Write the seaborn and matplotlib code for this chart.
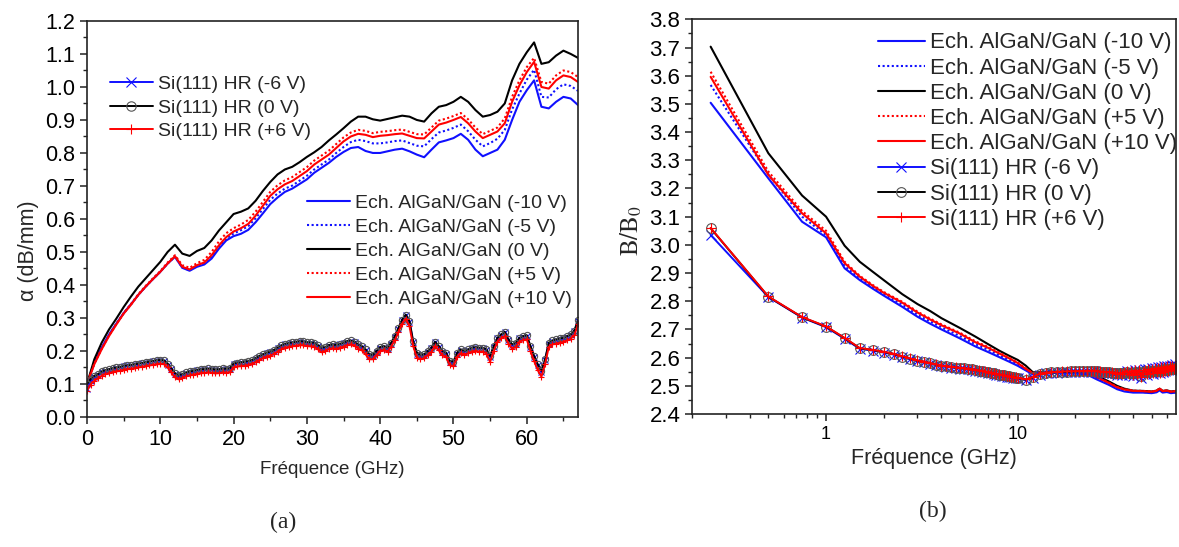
import matplotlib
matplotlib.use("Agg")
import matplotlib.pyplot as plt
from matplotlib.ticker import (MultipleLocator, LogLocator, NullFormatter, FixedLocator,
                               FixedFormatter, FormatStrFormatter)
import numpy as np
import seaborn as sns

# ---------------- (a) attenuation vs frequency ----------------
freq_a_alg = list(range(0, 68))  # GHz, 1 GHz step

alg_a_m10 = [0.10,0.165,0.21,0.25,0.283,0.315,0.342,0.37,0.395,0.418,
             0.44,0.465,0.485,0.452,0.443,0.455,0.462,0.48,0.51,0.535,
             0.548,0.555,0.567,0.59,0.617,0.645,0.665,0.682,0.692,0.706,
             0.72,0.74,0.755,0.77,0.788,0.803,0.815,0.818,0.806,0.80,
             0.80,0.805,0.81,0.813,0.805,0.795,0.787,0.81,0.832,0.838,
             0.845,0.858,0.84,0.81,0.79,0.80,0.81,0.84,0.90,0.955,
             0.99,1.02,0.94,0.935,0.955,0.97,0.965,0.945]
alg_a_m5 = [0.10,0.163,0.208,0.248,0.282,0.314,0.341,0.37,0.395,0.418,
            0.44,0.465,0.486,0.453,0.445,0.457,0.465,0.486,0.515,0.54,
            0.556,0.566,0.578,0.602,0.63,0.658,0.677,0.692,0.701,0.716,
            0.731,0.75,0.765,0.78,0.8,0.818,0.833,0.84,0.836,0.829,
            0.829,0.832,0.836,0.838,0.83,0.822,0.82,0.842,0.862,0.868,
            0.876,0.886,0.866,0.84,0.82,0.83,0.843,0.87,0.932,0.98,
            1.022,1.052,0.97,0.968,0.993,1.008,1.003,0.988]
alg_a_0 = [0.10,0.175,0.225,0.265,0.298,0.333,0.365,0.395,0.42,0.445,
           0.47,0.50,0.522,0.495,0.488,0.503,0.512,0.535,0.565,0.59,
           0.615,0.622,0.632,0.655,0.685,0.712,0.735,0.75,0.758,0.772,
           0.788,0.802,0.818,0.838,0.856,0.875,0.895,0.91,0.91,0.902,
           0.898,0.903,0.908,0.913,0.91,0.9,0.895,0.92,0.94,0.945,
           0.955,0.97,0.955,0.93,0.91,0.915,0.925,0.95,1.02,1.07,
           1.105,1.135,1.07,1.075,1.095,1.11,1.10,1.088]
alg_a_p5 = [0.10,0.162,0.207,0.247,0.282,0.315,0.342,0.372,0.397,0.42,
            0.442,0.468,0.49,0.46,0.452,0.466,0.476,0.5,0.532,0.557,
            0.572,0.583,0.597,0.622,0.652,0.682,0.702,0.717,0.727,0.742,
            0.757,0.777,0.792,0.807,0.827,0.847,0.862,0.87,0.867,0.86,
            0.864,0.866,0.869,0.871,0.864,0.857,0.856,0.877,0.898,0.904,
            0.912,0.921,0.902,0.877,0.857,0.867,0.877,0.905,0.97,1.02,
            1.06,1.088,1.015,1.01,1.035,1.05,1.045,1.03]
alg_a_p10 = [0.10,0.16,0.205,0.245,0.28,0.313,0.34,0.37,0.395,0.418,
             0.44,0.465,0.487,0.455,0.447,0.46,0.468,0.49,0.52,0.545,
             0.562,0.572,0.585,0.61,0.64,0.67,0.69,0.705,0.715,0.73,
             0.745,0.765,0.78,0.795,0.815,0.835,0.85,0.858,0.855,0.848,
             0.852,0.854,0.857,0.859,0.852,0.845,0.844,0.865,0.886,0.892,
             0.90,0.909,0.89,0.865,0.845,0.855,0.865,0.89,0.955,1.005,
             1.045,1.076,1.0,0.995,1.02,1.035,1.03,1.015]

freq_a_si = [i * 0.5 for i in range(135)]  # GHz, 0.5 GHz step

si_a_m6 = [0.085,0.108,0.12,0.127,0.135,0.14,0.143,0.146,0.148,0.151,
           0.153,0.156,0.157,0.159,0.161,0.163,0.165,0.167,0.169,0.171,
           0.172,0.17,0.159,0.145,0.13,0.123,0.127,0.132,0.136,0.138,
           0.141,0.143,0.144,0.145,0.144,0.142,0.143,0.145,0.144,0.146,
           0.16,0.163,0.164,0.165,0.168,0.171,0.176,0.183,0.188,0.193,
           0.196,0.201,0.208,0.215,0.22,0.222,0.224,0.226,0.228,0.227,
           0.225,0.224,0.222,0.215,0.207,0.21,0.216,0.218,0.216,0.22,
           0.223,0.228,0.23,0.226,0.218,0.213,0.202,0.186,0.185,0.197,
           0.21,0.213,0.207,0.222,0.243,0.268,0.293,0.308,0.287,0.227,
           0.192,0.185,0.187,0.198,0.208,0.226,0.212,0.197,0.192,0.167,
           0.165,0.192,0.203,0.198,0.203,0.208,0.21,0.208,0.208,0.202,
           0.182,0.212,0.238,0.248,0.256,0.232,0.218,0.222,0.238,0.243,
           0.246,0.212,0.182,0.156,0.136,0.172,0.222,0.23,0.233,0.236,
           0.238,0.243,0.248,0.26,0.292]
si_a_0 = [0.10,0.115,0.125,0.13,0.138,0.142,0.145,0.148,0.150,0.152,
          0.155,0.157,0.158,0.16,0.162,0.164,0.166,0.168,0.17,0.172,
          0.173,0.172,0.162,0.148,0.133,0.126,0.13,0.135,0.138,0.14,
          0.143,0.145,0.145,0.147,0.146,0.144,0.145,0.147,0.146,0.148,
          0.162,0.165,0.166,0.167,0.17,0.173,0.178,0.185,0.19,0.195,
          0.198,0.203,0.21,0.217,0.222,0.224,0.226,0.228,0.23,0.229,
          0.227,0.226,0.225,0.218,0.21,0.212,0.218,0.22,0.218,0.222,
          0.225,0.23,0.232,0.228,0.22,0.215,0.205,0.19,0.188,0.2,
          0.212,0.215,0.21,0.225,0.245,0.27,0.295,0.31,0.29,0.23,
          0.195,0.188,0.19,0.2,0.21,0.228,0.215,0.2,0.195,0.17,
          0.168,0.195,0.205,0.2,0.205,0.21,0.212,0.21,0.21,0.205,
          0.185,0.215,0.24,0.25,0.258,0.235,0.22,0.225,0.24,0.245,
          0.248,0.215,0.185,0.16,0.14,0.175,0.225,0.232,0.235,0.238,
          0.24,0.245,0.25,0.262,0.295]
si_a_p6 = [0.08,0.098,0.11,0.117,0.125,0.13,0.133,0.136,0.138,0.14,
           0.143,0.145,0.146,0.148,0.15,0.152,0.154,0.156,0.158,0.16,
           0.161,0.16,0.15,0.135,0.12,0.114,0.118,0.123,0.126,0.128,
           0.131,0.133,0.133,0.135,0.134,0.132,0.133,0.135,0.134,0.136,
           0.15,0.153,0.154,0.155,0.158,0.161,0.166,0.173,0.178,0.183,
           0.186,0.191,0.198,0.205,0.21,0.212,0.214,0.216,0.218,0.217,
           0.215,0.214,0.213,0.205,0.196,0.2,0.206,0.208,0.206,0.21,
           0.213,0.218,0.22,0.216,0.207,0.202,0.19,0.175,0.175,0.188,
           0.2,0.203,0.198,0.213,0.233,0.258,0.283,0.298,0.275,0.215,
           0.18,0.175,0.178,0.188,0.198,0.215,0.202,0.187,0.182,0.157,
           0.153,0.182,0.193,0.188,0.193,0.198,0.2,0.198,0.198,0.192,
           0.167,0.2,0.228,0.238,0.245,0.222,0.207,0.212,0.228,0.233,
           0.235,0.2,0.17,0.142,0.122,0.16,0.212,0.22,0.222,0.225,
           0.227,0.232,0.237,0.248,0.282]

# ---------------- (b) normalised susceptance vs frequency ----------------
freq_b_alg = [0.25, 0.5, 0.75, 1.0, 1.25, 1.5, 1.75, 2.0, 2.5, 3.0, 3.5, 4.0,
              5, 6, 7, 8, 9, 10, 11, 12, 13, 15, 17, 20, 23, 26, 30, 33, 36,
              40, 45, 50, 53, 55, 57, 60, 63, 67]

alg_b_m10 = [3.504,3.236,3.082,3.027,2.917,2.875,2.845,2.82,2.78,2.745,2.72,2.70,
             2.668,2.64,2.62,2.602,2.586,2.571,2.555,2.54,2.542,2.545,2.546,2.545,
             2.54,2.522,2.503,2.488,2.48,2.476,2.476,2.474,2.477,2.484,2.476,2.478,
             2.474,2.476]
alg_b_m5 = [3.567,3.25,3.10,3.035,2.925,2.88,2.85,2.825,2.788,2.752,2.728,2.708,
            2.676,2.648,2.628,2.608,2.592,2.576,2.558,2.542,2.543,2.546,2.548,2.547,
            2.542,2.526,2.506,2.491,2.483,2.479,2.478,2.476,2.479,2.487,2.478,2.48,
            2.476,2.478]
alg_b_0 = [3.703,3.325,3.175,3.10,2.997,2.94,2.905,2.875,2.825,2.79,2.765,2.74,
           2.705,2.675,2.648,2.625,2.607,2.592,2.572,2.548,2.548,2.55,2.55,2.552,
           2.548,2.535,2.515,2.50,2.49,2.483,2.482,2.48,2.483,2.49,2.482,2.484,
           2.48,2.482]
alg_b_p5 = [3.614,3.26,3.12,3.05,2.94,2.89,2.858,2.833,2.798,2.763,2.738,2.718,
            2.688,2.658,2.638,2.618,2.6,2.583,2.562,2.546,2.546,2.549,2.551,2.551,
            2.546,2.531,2.511,2.496,2.488,2.483,2.482,2.48,2.483,2.491,2.482,2.484,
            2.48,2.482]
alg_b_p10 = [3.596,3.248,3.112,3.041,2.935,2.887,2.855,2.83,2.795,2.76,2.735,2.715,
             2.685,2.655,2.635,2.615,2.598,2.581,2.56,2.545,2.545,2.548,2.55,2.55,
             2.545,2.53,2.51,2.495,2.487,2.482,2.481,2.479,2.482,2.49,2.481,2.483,
             2.479,2.481]

freq_b_si = [0.25 * i for i in range(1, 41)] + list(range(11, 68))

si_b_m6 = [3.035,2.815,2.742,2.708,2.667,2.631,2.625,2.618,2.611,2.602,
           2.594,2.587,2.583,2.578,2.573,2.569,2.567,2.565,2.563,2.561,
           2.56,2.558,2.556,2.554,2.552,2.55,2.548,2.546,2.544,2.542,
           2.54,2.538,2.536,2.535,2.533,2.532,2.53,2.529,2.527,2.526,
           2.52,2.528,2.54,2.544,2.546,2.546,2.548,2.548,2.549,2.549,
           2.55,2.55,2.551,2.55,2.551,2.549,2.548,2.547,2.546,2.546,
           2.545,2.544,2.54,2.543,2.538,2.547,2.552,2.54,2.549,2.536,
           2.555,2.54,2.556,2.528,2.552,2.558,2.538,2.56,2.548,2.562,
           2.542,2.563,2.55,2.566,2.545,2.567,2.55,2.569,2.553,2.57,
           2.555,2.572,2.557,2.574,2.56,2.576,2.565]
si_b_0 = [3.059,2.816,2.743,2.71,2.669,2.633,2.627,2.62,2.613,2.604,
          2.596,2.589,2.585,2.58,2.575,2.571,2.569,2.567,2.565,2.563,
          2.562,2.56,2.558,2.556,2.554,2.552,2.55,2.548,2.546,2.544,
          2.542,2.54,2.538,2.537,2.535,2.534,2.532,2.531,2.529,2.528,
          2.522,2.53,2.542,2.546,2.548,2.548,2.55,2.55,2.551,2.551,
          2.552,2.552,2.553,2.552,2.553,2.551,2.55,2.549,2.548,2.548,
          2.547,2.546,2.546,2.545,2.546,2.545,2.548,2.544,2.547,2.545,
          2.549,2.546,2.55,2.535,2.548,2.551,2.549,2.552,2.55,2.553,
          2.551,2.554,2.552,2.556,2.553,2.557,2.555,2.558,2.556,2.56,
          2.557,2.561,2.559,2.563,2.56,2.565,2.562]
si_b_p6 = [3.06,2.817,2.744,2.711,2.67,2.634,2.628,2.621,2.614,2.605,
           2.597,2.59,2.586,2.581,2.576,2.572,2.57,2.568,2.566,2.564,
           2.563,2.561,2.559,2.557,2.555,2.553,2.551,2.549,2.547,2.545,
           2.543,2.541,2.539,2.538,2.536,2.535,2.533,2.532,2.53,2.529,
           2.523,2.531,2.543,2.547,2.549,2.549,2.551,2.551,2.552,2.552,
           2.553,2.553,2.554,2.553,2.554,2.552,2.551,2.55,2.549,2.549,
           2.548,2.547,2.543,2.546,2.541,2.55,2.553,2.542,2.551,2.539,
           2.556,2.543,2.555,2.53,2.549,2.557,2.541,2.559,2.546,2.561,
           2.544,2.562,2.548,2.565,2.546,2.566,2.549,2.568,2.551,2.569,
           2.553,2.571,2.556,2.572,2.558,2.574,2.56]

alg_labels = ["Ech. AlGaN/GaN (-10 V)", "Ech. AlGaN/GaN (-5 V)", "Ech. AlGaN/GaN (0 V)",
              "Ech. AlGaN/GaN (+5 V)", "Ech. AlGaN/GaN (+10 V)"]
si_labels = ["Si(111) HR (-6 V)", "Si(111) HR (0 V)", "Si(111) HR (+6 V)"]

BLUE, BLACK, RED = "#1010ff", "#000000", "#ff0000"
DOT = (0, (1, 1.2))
alg_styles = [(BLUE, "-"), (BLUE, DOT), (BLACK, "-"), (RED, DOT), (RED, "-")]
si_styles = [(BLUE, "x"), (BLACK, "o"), (RED, "+")]

sns.set_theme(style="ticks")
plt.rcParams["font.family"] = ["Liberation Sans", "DejaVu Sans"]
plt.rcParams["mathtext.fontset"] = "stix"
plt.rcParams["axes.linewidth"] = 1.2
plt.rcParams["axes.edgecolor"] = "#222222"

fig = plt.figure(figsize=(11.79, 5.47), dpi=100)
ax_a = fig.add_axes([0.0738, 0.2377, 0.4165, 0.724])
ax_b = fig.add_axes([0.587, 0.2431, 0.4105, 0.7216])


def draw_alg(ax, x, series):
    handles = []
    for y, (c, ls), lab in zip(series, alg_styles, alg_labels):
        sns.lineplot(x=x, y=y, ax=ax, color=c, linestyle=ls, lw=1.5,
                     estimator=None, sort=False, label=lab, legend=False)
        handles.append(ax.get_lines()[-1])
    return handles


def draw_si(ax, x, series, ms, mew):
    handles = []
    for y, (c, m), lab in zip(series, si_styles, si_labels):
        kw = dict(marker=m, markersize=ms, markeredgewidth=mew, markeredgecolor=c)
        if m == "o":
            kw["markerfacecolor"] = "none"
            kw["markeredgecolor"] = "#555555"
        sns.lineplot(x=x, y=y, ax=ax, color=c, lw=1.4, estimator=None, sort=False,
                     label=lab, legend=False, **kw)
        handles.append(ax.get_lines()[-1])
    return handles


# panel (a)
h_alg_a = draw_alg(ax_a, freq_a_alg, [alg_a_m10, alg_a_m5, alg_a_0, alg_a_p5, alg_a_p10])
h_si_a = draw_si(ax_a, freq_a_si, [si_a_m6, si_a_0, si_a_p6], ms=4.5, mew=0.8)

ax_a.set_xlim(0, 67)
ax_a.set_ylim(0.0, 1.2)
ax_a.xaxis.set_major_locator(MultipleLocator(10))
ax_a.xaxis.set_minor_locator(MultipleLocator(5))
ax_a.yaxis.set_major_locator(MultipleLocator(0.1))
ax_a.yaxis.set_minor_locator(MultipleLocator(0.05))
ax_a.yaxis.set_major_formatter(FormatStrFormatter("%.1f"))
ax_a.set_xlabel("Fréquence (GHz)", fontsize=13.5, labelpad=8)
ax_a.set_ylabel("α (dB/mm)", fontsize=15.5)
ax_a.yaxis.set_label_coords(-0.097, 0.42)

leg1 = ax_a.legend(h_si_a, si_labels, loc="upper left", bbox_to_anchor=(0.047, 0.862),
                   frameon=False, fontsize=14, handlelength=2.2, handletextpad=0.25,
                   labelspacing=0.3, borderpad=0, borderaxespad=0, markerscale=1.5)
ax_a.add_artist(leg1)
ax_a.legend(h_alg_a, alg_labels, loc="upper left", bbox_to_anchor=(0.448, 0.562),
            frameon=False, fontsize=14, handlelength=2.2, handletextpad=0.25,
            labelspacing=0.33, borderpad=0, borderaxespad=0)

# panel (b)
h_alg_b = draw_alg(ax_b, freq_b_alg, [alg_b_m10, alg_b_m5, alg_b_0, alg_b_p5, alg_b_p10])
h_si_b = draw_si(ax_b, freq_b_si, [si_b_m6, si_b_0, si_b_p6], ms=7, mew=0.8)

ax_b.set_xscale("log")
ax_b.set_xlim(0.2, 67)
ax_b.set_ylim(2.4, 3.8)
ax_b.xaxis.set_major_locator(FixedLocator([1, 10]))
ax_b.xaxis.set_major_formatter(FixedFormatter(["1", "10"]))
ax_b.xaxis.set_minor_locator(LogLocator(base=10, subs=np.arange(2, 10), numticks=20))
ax_b.xaxis.set_minor_formatter(NullFormatter())
ax_b.yaxis.set_major_locator(MultipleLocator(0.1))
ax_b.yaxis.set_minor_locator(MultipleLocator(0.05))
ax_b.yaxis.set_major_formatter(FormatStrFormatter("%.1f"))
ax_b.set_xlabel("Fréquence (GHz)", fontsize=15.5, labelpad=4)
ax_b.set_ylabel(r"$\mathrm{B/B_0}$", fontsize=18)
ax_b.yaxis.set_label_coords(-0.099, 0.464)

ax_b.legend(h_alg_b + h_si_b, alg_labels + si_labels, loc="upper left",
            bbox_to_anchor=(0.384, 0.967), frameon=False, fontsize=16,
            handlelength=2.1, handletextpad=0.25, labelspacing=0.19,
            borderpad=0, borderaxespad=0)

for ax in (ax_a, ax_b):
    for s in ax.spines.values():
        s.set_visible(True)
        s.set_linewidth(1.2)
    ax.tick_params(axis="both", which="major", direction="out", length=5, width=1.1,
                   labelsize=15.5, top=False, right=False, colors="#222222",
                   labelcolor="black")
    ax.tick_params(axis="both", which="minor", direction="out", length=3, width=1.0,
                   top=False, right=False, colors="#222222")
    ax.grid(False)
ax_b.tick_params(axis="y", which="major", labelsize=16)
ax_b.tick_params(axis="x", which="major", labelsize=13)

fig.text(0.240, 0.035, "(a)", fontsize=17, family="Liberation Serif", ha="center")
fig.text(0.791, 0.055, "(b)", fontsize=17, family="Liberation Serif", ha="center")

fig.savefig("out.png", dpi=100, facecolor="white")
